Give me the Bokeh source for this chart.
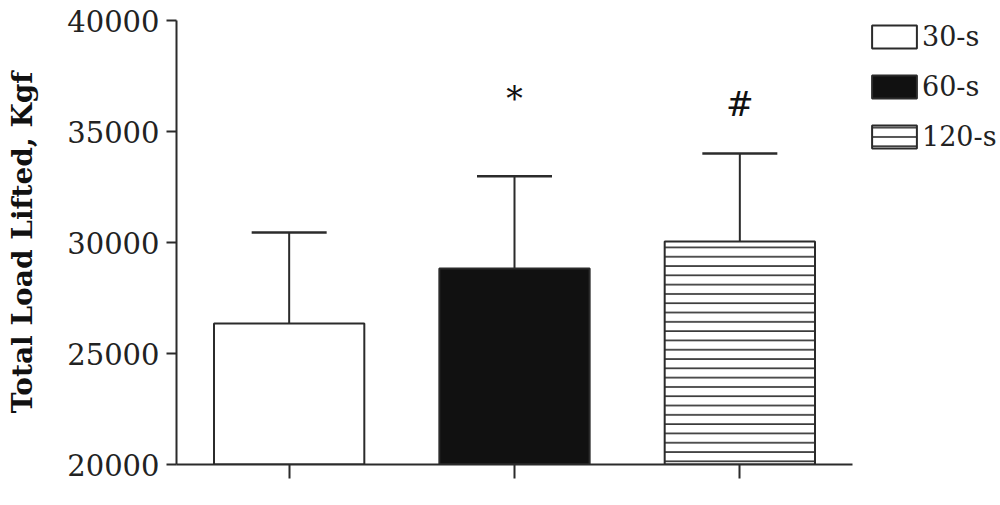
from bokeh.plotting import figure
from bokeh.models import (ColumnDataSource, FactorRange, Range1d, Whisker, TeeHead,
                          Legend, LegendItem, FixedTicker)
from bokeh.core.properties import value
from bokeh.embed import file_html
from bokeh.resources import INLINE

# ---- data ----
categories = ["30-s", "60-s", "120-s"]
means = [26350, 28830, 30050]
sds = [4100, 4150, 3960]
fills = ["white", "#111111", "white"]
hatches = [" ", " ", "-"]
marks = ["*", "#"]
mark_cats = ["60-s", "120-s"]
mark_y = [36500, 36200]
y_ticks = [20000, 25000, 30000, 35000, 40000]
y_min, y_max = 20000, 40000
y_title = "Total Load Lifted, Kgf"

FONT = "DejaVu Serif"
INK = "#2b2b2b"

src = ColumnDataSource(dict(cat=categories, mean=means,
                            upper=[m + s for m, s in zip(means, sds)],
                            fill=fills, hatch=hatches,
                            base=[y_min] * len(categories)))
msrc = ColumnDataSource(dict(cat=mark_cats, y=mark_y, t=marks))

p = figure(x_range=FactorRange(*categories), y_range=Range1d(y_min, y_max),
           frame_width=676, frame_height=444,
           min_border_left=176, min_border_top=20, min_border_bottom=24,
           min_border_right=0,
           output_backend="svg", toolbar_location=None)

bars = p.vbar(x="cat", top="mean", bottom="base", width=0.667, source=src,
              fill_color="fill", line_color=INK, line_width=2,
              hatch_pattern="hatch", hatch_scale=9.3, hatch_weight=1.6,
              hatch_color=INK)

wh = Whisker(base="cat", upper="upper", lower="mean", source=src,
             line_color=INK, line_width=2, dimension="height",
             upper_head=TeeHead(size=75, line_color=INK, line_width=2.5),
             lower_head=None)
p.add_layout(wh)

p.text(x="cat", y="y", text="t", source=msrc, text_font=value(FONT),
       text_font_size="33px", text_align="center", text_baseline="middle",
       text_color="#111111")

# legend
items = [LegendItem(label=c, renderers=[bars], index=i) for i, c in enumerate(categories)]
legend = Legend(items=items, location=(14, 312), orientation="vertical",
                glyph_width=56, glyph_height=29, label_standoff=0,
                spacing=19, padding=0, margin=0,
                label_text_font=FONT, label_text_font_size="27px",
                label_text_color="#222222", border_line_color=None,
                background_fill_alpha=0, label_height=23)
p.add_layout(legend, "right")

# axes
p.xgrid.visible = False
p.ygrid.visible = False
p.outline_line_color = None

ya = p.yaxis[0]
ya.ticker = FixedTicker(ticks=y_ticks)
ya.axis_label = y_title
ya.axis_label_text_font = FONT
ya.axis_label_text_font_style = "bold"
ya.axis_label_text_font_size = "28px"
ya.axis_label_text_color = "#111111"
ya.axis_label_standoff = 25
ya.major_label_text_font = FONT
ya.major_label_text_font_size = "29px"
ya.major_label_text_color = "#222222"
ya.major_label_standoff = 7
ya.axis_line_color = INK
ya.axis_line_width = 2
ya.major_tick_line_color = INK
ya.major_tick_line_width = 2
ya.major_tick_out = 10
ya.major_tick_in = 0
ya.minor_tick_out = 0
ya.minor_tick_in = 0

xa = p.xaxis[0]
xa.axis_line_color = INK
xa.axis_line_width = 2
xa.major_tick_line_color = INK
xa.major_tick_line_width = 2
xa.major_tick_out = 14
xa.major_tick_in = 0
xa.major_label_text_color = None
xa.major_label_text_font_size = "1px"

open("out.html", "w").write(file_html(p, INLINE))
